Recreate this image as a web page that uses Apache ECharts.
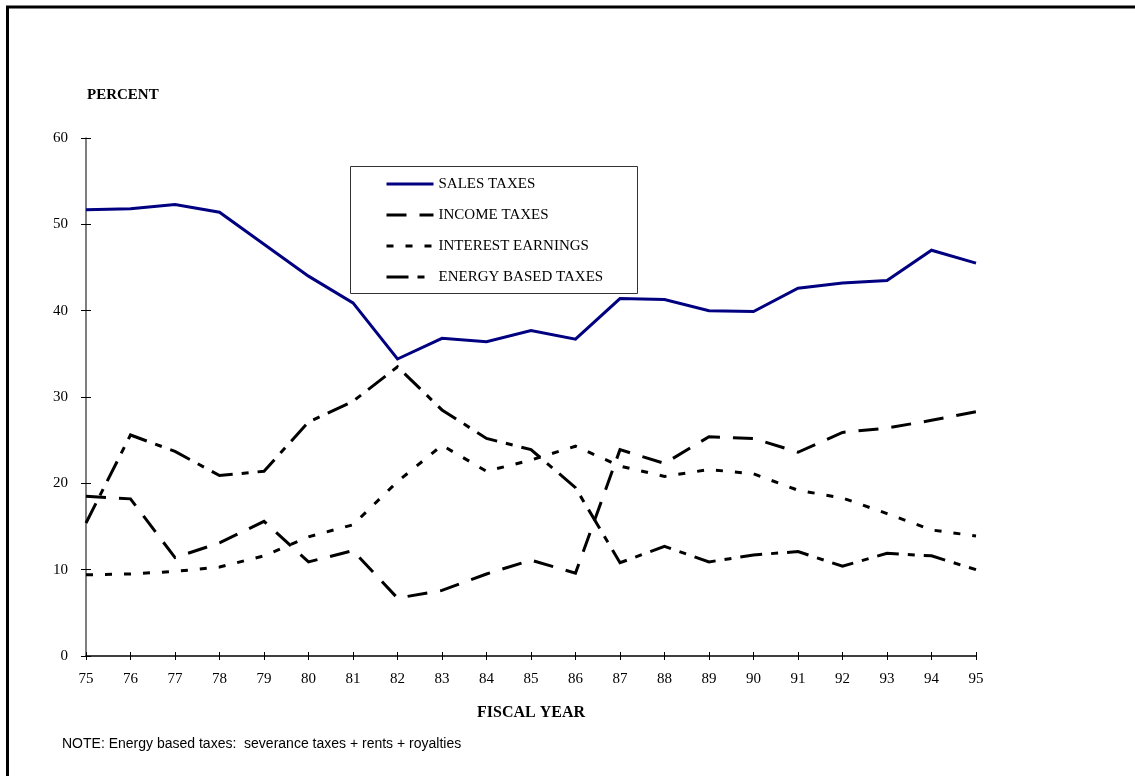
<!DOCTYPE html>
<html>
<head>
<meta charset="utf-8">
<script src="https://cdn.jsdelivr.net/npm/echarts@6/dist/echarts.min.js"></script>
<style>
  html, body { margin: 0; padding: 0; background: #fff; }
  #chart { width: 1135px; height: 776px; }
</style>
</head>
<body>
<div id="chart"></div>
<script>
const years = ['75','76','77','78','79','80','81','82','83','84','85','86','87','88','89','90','91','92','93','94','95'];
const salesTaxes = [51.7,51.8,52.3,51.4,47.7,44.0,40.9,34.4,36.8,36.4,37.7,36.7,41.4,41.3,40.0,39.9,42.6,43.2,43.5,47.0,45.5];
const incomeTaxes = [18.5,18.2,11.4,13.1,15.6,10.9,12.2,6.7,7.6,9.5,11.1,9.6,23.9,22.3,25.4,25.2,23.6,25.9,26.4,27.3,28.3];
const interestEarnings = [9.4,9.5,9.8,10.3,11.6,13.8,15.2,20.2,24.4,21.4,22.7,24.3,22.0,20.8,21.6,21.1,19.2,18.3,16.5,14.6,13.9];
const energyTaxes = [15.4,25.6,23.7,20.9,21.4,27.1,29.5,33.5,28.5,25.2,23.9,19.5,10.8,12.7,10.9,11.7,12.1,10.4,11.9,11.6,10.0];
const seriesNames = ['SALES TAXES','INCOME TAXES','INTEREST EARNINGS','ENERGY BASED TAXES'];
const yTicks = { min: 0, max: 60, interval: 10 };

const serif = '"Liberation Serif", "Times New Roman", serif';
const chart = echarts.init(document.getElementById('chart'), null, { renderer: 'canvas' });

function lineSeries(name, data, color, dash, width) {
  return {
    name: name, type: 'line', data: data, symbol: 'none', smooth: false,
    xAxisIndex: 0, yAxisIndex: 0, z: 3,
    lineStyle: { color: color, width: width, type: dash, cap: 'butt', join: 'miter' },
    itemStyle: { color: color },
    emphasis: { disabled: true }
  };
}

chart.setOption({
  animation: false,
  backgroundColor: '#ffffff',
  grid: { left: 86, top: 138, width: 890, height: 518, containLabel: false },
  legend: {
    orient: 'vertical',
    left: 385, top: 176, padding: 0,
    itemWidth: 47, itemHeight: 14, itemGap: 15,
    selectedMode: false,
    itemStyle: { opacity: 0 },
    lineStyle: { width: 3 },
    textStyle: { fontFamily: serif, fontSize: 15, color: '#000', lineHeight: 16 },
    data: seriesNames
  },
  xAxis: [{
    type: 'category', data: years, boundaryGap: false, position: 'bottom',
    axisLine: { lineStyle: { color: '#000', width: 1.5 } },
    axisTick: { show: true, length: 4, alignWithLabel: true, lineStyle: { color: '#000', width: 1 } },
    axisLabel: { fontFamily: serif, fontSize: 15, color: '#000', margin: 16 },
    splitLine: { show: false },
    name: 'FISCAL YEAR', nameLocation: 'middle', nameGap: 49,
    nameTextStyle: { fontFamily: serif, fontSize: 16, fontWeight: 'bold', color: '#000' }
  }, {
    type: 'category', data: years, boundaryGap: false, position: 'bottom', offset: 0,
    axisLine: { show: false },
    axisTick: { show: true, inside: true, length: 4, lineStyle: { color: '#000', width: 1 } },
    axisLabel: { show: false },
    splitLine: { show: false }
  }],
  yAxis: [{
    type: 'value', min: yTicks.min, max: yTicks.max, interval: yTicks.interval, position: 'left',
    axisLine: { show: true, lineStyle: { color: '#555', width: 1.5 } },
    axisTick: { show: true, length: 5, lineStyle: { color: '#000', width: 1 } },
    axisLabel: { fontFamily: serif, fontSize: 15, color: '#000', margin: 18 },
    splitLine: { show: false }
  }, {
    type: 'value', min: yTicks.min, max: yTicks.max, interval: yTicks.interval, position: 'left', offset: 0,
    axisLine: { show: false },
    axisTick: { show: true, inside: true, length: 5, lineStyle: { color: '#000', width: 1 } },
    axisLabel: { show: false },
    splitLine: { show: false }
  }],
  series: [
    lineSeries(seriesNames[0], salesTaxes, '#000080', 'solid', 3),
    lineSeries(seriesNames[1], incomeTaxes, '#000000', [20, 13], 3),
    lineSeries(seriesNames[2], interestEarnings, '#000000', [7, 12], 3),
    lineSeries(seriesNames[3], energyTaxes, '#000000', [22, 9, 7, 9], 3)
  ],
  graphic: [
    { type: 'rect', z: 0, silent: true, shape: { x: 7.5, y: 7, width: 1140, height: 790 },
      style: { fill: 'none', stroke: '#000', lineWidth: 3 } },
    { type: 'rect', z: 1, silent: true, shape: { x: 350.5, y: 166.5, width: 287, height: 127 },
      style: { fill: '#fff', stroke: '#333', lineWidth: 1 } },
    { type: 'text', silent: true, left: 87, top: 88,
      style: { text: 'PERCENT', font: 'bold 15px ' + serif, fill: '#000' } },
    { type: 'text', silent: true, left: 62, top: 737,
      style: { text: 'NOTE: Energy based taxes:  severance taxes + rents + royalties', font: '14px "Liberation Sans", Arial, sans-serif', fill: '#000' } }
  ]
});
</script>
</body>
</html>
